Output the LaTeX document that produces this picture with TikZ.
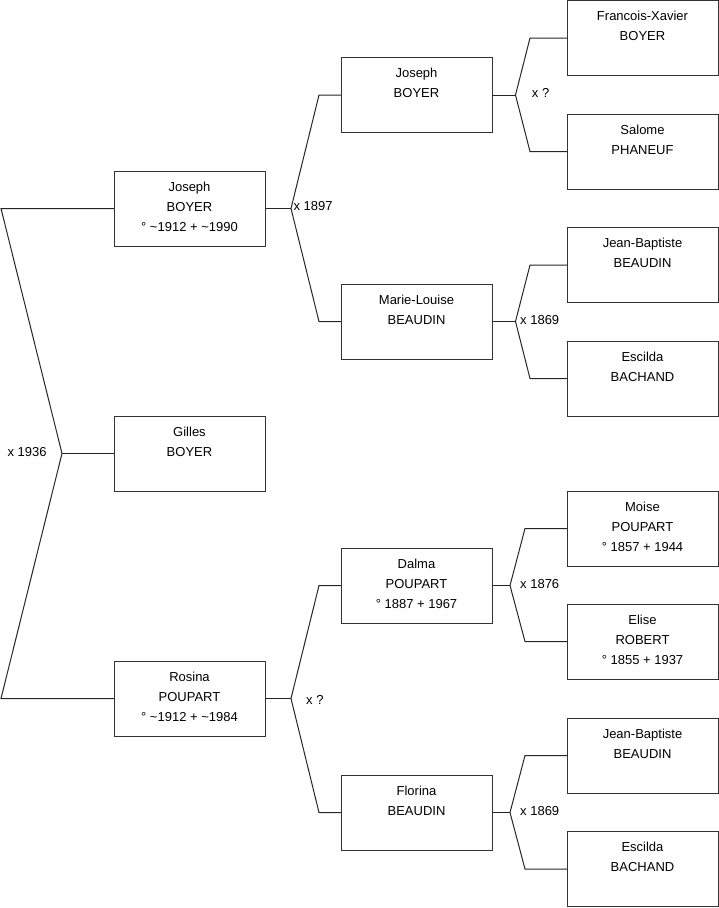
\documentclass[tikz,border=0pt]{standalone}
\usepackage{fontspec}
\setmainfont{Liberation Sans}
\newcommand\ptext[1]{\parbox[c][75pt][t]{151pt}{\fontsize{13}{20}\selectfont\centering\rule{0pt}{20.3pt}#1\par}}
\tikzset{
  pbox/.style={draw=black!80, line width=1pt, inner sep=0pt, outer sep=0pt, minimum width=151pt, minimum height=75pt, fill=white},
  conn/.style={draw=black!85, line width=1pt, line join=miter},
  mlabel/.style={inner sep=0pt, anchor=base west, font=\fontsize{13}{15}\selectfont}
}
\begin{document}
\begin{tikzpicture}[x=1pt,y=-1pt]
\useasboundingbox (0,0) rectangle (719,908);
% column 1
\node[pbox] (c1a) at (189.5,208.5) {\ptext{Joseph\\BOYER\\° \textasciitilde1912 + \textasciitilde1990}};
\node[pbox] (c1b) at (189.5,453.5) {\ptext{Gilles\\BOYER}};
\node[pbox] (c1c) at (189.5,698.5) {\ptext{Rosina\\POUPART\\° \textasciitilde1912 + \textasciitilde1984}};
% column 2
\node[pbox] (c2a) at (416.5,95) {\ptext{Joseph\\BOYER}};
\node[pbox] (c2b) at (416.5,321.5) {\ptext{Marie-Louise\\BEAUDIN}};
\node[pbox] (c2c) at (416.5,585.5) {\ptext{Dalma\\POUPART\\° 1887 + 1967}};
\node[pbox] (c2d) at (416.5,812.5) {\ptext{Florina\\BEAUDIN}};
% column 3
\node[pbox] (c3a) at (642.5,38) {\ptext{Francois-Xavier\\BOYER}};
\node[pbox] (c3b) at (642.5,151.5) {\ptext{Salome\\PHANEUF}};
\node[pbox] (c3c) at (642.5,265) {\ptext{Jean-Baptiste\\BEAUDIN}};
\node[pbox] (c3d) at (642.5,378.5) {\ptext{Escilda\\BACHAND}};
\node[pbox] (c3e) at (642.5,528.5) {\ptext{Moise\\POUPART\\° 1857 + 1944}};
\node[pbox] (c3f) at (642.5,641.5) {\ptext{Elise\\ROBERT\\° 1855 + 1937}};
\node[pbox] (c3g) at (642.5,755.5) {\ptext{Jean-Baptiste\\BEAUDIN}};
\node[pbox] (c3h) at (642.5,869) {\ptext{Escilda\\BACHAND}};
% fork coordinates
\coordinate (f0) at (62,453.5);
\coordinate (f0a) at (1,208.5);
\coordinate (f0b) at (1,698.5);
\coordinate (f1) at (291,208.5);
\coordinate (k1a) at (319,95);
\coordinate (k1b) at (319,321.5);
\coordinate (f2) at (291,698.5);
\coordinate (k2a) at (319,585.5);
\coordinate (k2b) at (319,812.5);
\coordinate (f3) at (515.5,95);
\coordinate (k3a) at (530,38);
\coordinate (k3b) at (530,151.5);
\coordinate (f4) at (515.5,321.5);
\coordinate (k4a) at (530,265);
\coordinate (k4b) at (530,378.5);
\coordinate (f5) at (510,585.5);
\coordinate (k5a) at (525,528.5);
\coordinate (k5b) at (525,641.5);
\coordinate (f6) at (510,812.5);
\coordinate (k6a) at (525,755.5);
\coordinate (k6b) at (525,869);
% connectors
\draw[conn] (c1a.west) -- (f0a) -- (f0) -- (f0b) -- (c1c.west);
\draw[conn] (f0) -- (c1b.west);
\draw[conn] (c1a.east) -- (f1);
\draw[conn] (c2a.west) -- (k1a) -- (f1) -- (k1b) -- (c2b.west);
\draw[conn] (c1c.east) -- (f2);
\draw[conn] (c2c.west) -- (k2a) -- (f2) -- (k2b) -- (c2d.west);
\draw[conn] (c2a.east) -- (f3);
\draw[conn] (c3a.west) -- (k3a) -- (f3) -- (k3b) -- (c3b.west);
\draw[conn] (c2b.east) -- (f4);
\draw[conn] (c3c.west) -- (k4a) -- (f4) -- (k4b) -- (c3d.west);
\draw[conn] (c2c.east) -- (f5);
\draw[conn] (c3e.west) -- (k5a) -- (f5) -- (k5b) -- (c3f.west);
\draw[conn] (c2d.east) -- (f6);
\draw[conn] (c3g.west) -- (k6a) -- (f6) -- (k6b) -- (c3h.west);
% marriage labels
\node[mlabel] (m0) at (7.3,456.4) {x 1936};
\node[mlabel] (m1) at (293.3,210.7) {x 1897};
\node[mlabel] (m2) at (306,704) {x ?};
\node[mlabel] (m3) at (531.7,97.3) {x ?};
\node[mlabel] (m4) at (520,324) {x 1869};
\node[mlabel] (m5) at (520,588.7) {x 1876};
\node[mlabel] (m6) at (520,815) {x 1869};
\end{tikzpicture}
\end{document}
